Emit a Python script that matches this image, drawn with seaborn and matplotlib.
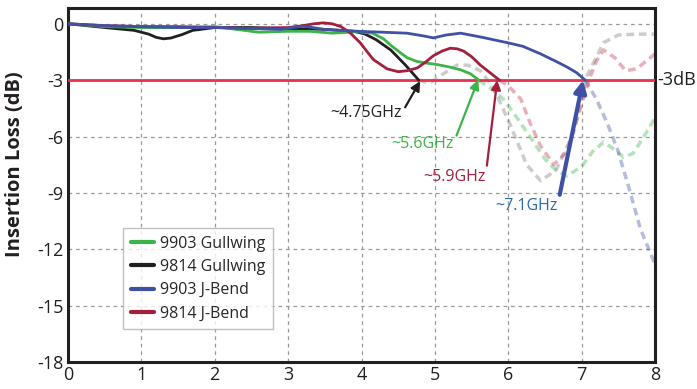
import numpy as np
import pandas as pd
import matplotlib
matplotlib.use("Agg")
import matplotlib.pyplot as plt
import seaborn as sns

# ---- data ----
series_names = ["9903 Gullwing", "9814 Gullwing", "9903 J-Bend", "9814 J-Bend"]
series_colors = ["#3cb44a", "#231f20", "#3f51a5", "#a3203c"]
faded_colors = ["#3cb44a", "#7a7a7a", "#3f51a5", "#c0304a"]

g_x = [0, 0.5, 1.0, 1.5, 2.0, 2.3, 2.6, 3.0, 3.3, 3.6, 3.95, 4.15, 4.3, 4.4, 4.5, 4.62, 4.75, 4.9, 5.03, 5.2, 5.35, 5.48, 5.6]
g_y = [0, -0.15, -0.2, -0.2, -0.15, -0.3, -0.45, -0.4, -0.4, -0.5, -0.42, -0.5, -0.8, -1.15, -1.45, -1.8, -2.0, -2.1, -2.17, -2.3, -2.45, -2.65, -3.0]
g_dx = [5.6, 5.75, 5.93, 6.1, 6.26, 6.5, 6.65, 6.8, 7.0, 7.15, 7.3, 7.45, 7.57, 7.7, 7.85, 8.0]
g_dy = [-3.0, -3.4, -4.0, -4.9, -5.8, -7.2, -7.8, -8.1, -7.6, -6.8, -6.3, -6.7, -7.1, -6.9, -6.0, -5.0]

k_x = [0, 0.5, 0.9, 1.1, 1.2, 1.3, 1.4, 1.55, 1.7, 2.0, 2.5, 3.0, 3.5, 3.9, 4.05, 4.2, 4.4, 4.6, 4.78]
k_y = [0, -0.2, -0.35, -0.55, -0.72, -0.8, -0.76, -0.58, -0.35, -0.2, -0.2, -0.25, -0.3, -0.4, -0.55, -0.85, -1.4, -2.2, -3.0]
k_dx = [4.78, 4.88, 4.95, 5.1, 5.3, 5.45, 5.62, 5.8, 6.03, 6.25, 6.44, 6.65, 6.89, 7.07, 7.3, 7.5, 7.75, 8.0]
k_dy = [-3.0, -3.1, -3.1, -2.7, -2.2, -2.2, -2.5, -3.4, -5.4, -7.5, -8.35, -7.8, -5.8, -2.8, -1.0, -0.6, -0.55, -0.55]

b_x = [0, 0.5, 1.0, 1.5, 2.0, 2.5, 2.9, 3.2, 3.5, 3.95, 4.3, 4.62, 4.85, 4.98, 5.15, 5.35, 5.62, 5.98, 6.2, 6.44, 6.65, 6.8, 6.93, 7.05]
b_y = [0, -0.1, -0.15, -0.2, -0.2, -0.25, -0.3, -0.12, -0.3, -0.4, -0.45, -0.5, -0.65, -0.75, -0.6, -0.5, -0.7, -1.0, -1.2, -1.6, -2.0, -2.3, -2.6, -3.0]
b_dx = [7.05, 7.2, 7.35, 7.49, 7.65, 7.8, 8.0]
b_dy = [-3.0, -4.0, -5.3, -6.7, -8.8, -10.9, -12.8]

r_x = [0, 0.5, 1.0, 1.5, 2.0, 2.5, 3.0, 3.2, 3.35, 3.48, 3.6, 3.72, 3.85, 3.98, 4.16, 4.35, 4.5, 4.62, 4.76, 4.87, 4.98, 5.1, 5.21, 5.3, 5.39, 5.5, 5.62, 5.75, 5.88]
r_y = [0, -0.1, -0.15, -0.15, -0.2, -0.25, -0.2, -0.1, 0.0, 0.05, 0.0, -0.15, -0.5, -1.0, -1.9, -2.4, -2.55, -2.5, -2.35, -2.05, -1.7, -1.45, -1.3, -1.33, -1.45, -1.75, -2.2, -2.6, -3.0]
r_dx = [5.88, 6.0, 6.17, 6.3, 6.44, 6.62, 6.8, 7.0, 7.1, 7.2, 7.3, 7.45, 7.6, 7.75, 8.0]
r_dy = [-3.0, -3.3, -4.0, -5.3, -6.5, -7.5, -6.8, -4.3, -3.0, -2.0, -1.4, -1.8, -2.5, -2.4, -1.6]

solid_x = [g_x, k_x, b_x, r_x]
solid_y = [g_y, k_y, b_y, r_y]
dash_x = [g_dx, k_dx, b_dx, r_dx]
dash_y = [g_dy, k_dy, b_dy, r_dy]

threshold = -3
x_ticks = list(range(0, 9))
y_ticks = [0, -3, -6, -9, -12, -15, -18]

ann_labels = ["~5.6GHz", "~4.75GHz", "~7.1GHz", "~5.9GHz"]
ann_head = [(5.59, -2.98), (4.8, -3.05), (7.02, -3.0), (5.85, -3.0)]
ann_tail = [(5.25, -6.4), (4.55, -4.75), (6.67, -9.7), (5.69, -8.15)]
ann_text_colors = ["#3cb44a", "#231f20", "#2b6aa8", "#a3203c"]
ann_lw = [1.6, 1.6, 3.0, 1.6]

# ---- plotting ----
sns.set_style("white")
plt.rcParams["font.family"] = ["Open Sans", "DejaVu Sans"]

fig = plt.figure(figsize=(6.97, 3.89), dpi=100)
ax = fig.add_axes([68 / 697, 1 - 362 / 389, 587 / 697, 354 / 389])

# faded dashed continuations first
for i in range(4):
    df = pd.DataFrame({"x": dash_x[i], "y": dash_y[i]})
    sns.lineplot(data=df, x="x", y="y", ax=ax, color=faded_colors[i], alpha=0.38,
                 linewidth=2.5, linestyle=(0, (2.2, 1.4)), sort=False, estimator=None,
                 legend=False)

# -3 dB line
ax.axhline(threshold, color="#e8304f", linewidth=2, zorder=3)

for i in [1, 0, 3, 2]:
    df = pd.DataFrame({"x": solid_x[i], "y": solid_y[i]})
    sns.lineplot(data=df, x="x", y="y", ax=ax, color=series_colors[i], linewidth=2.0,
                 sort=False, estimator=None, legend=False, zorder=4)
handles = [plt.Line2D([], [], color=series_colors[i], linewidth=3) for i in range(4)]

for i in range(4):
    ax.annotate(ann_labels[i], xy=ann_head[i], xytext=ann_tail[i],
                ha="right", va="center", fontsize=11.5, color=ann_text_colors[i],
                arrowprops=dict(arrowstyle="-|>", color=series_colors[i],
                                lw=ann_lw[i], mutation_scale=14 if i != 2 else 18,
                                shrinkA=0, shrinkB=0, relpos=(1.0, 0.5)),
                zorder=6)

ax.text(1.004, threshold, "-3dB", transform=ax.get_yaxis_transform(),
        ha="left", va="center", fontsize=13, color="#231f20")

ax.set_xlim(0, 8)
ax.set_ylim(-18, 0.84)
ax.set_xticks(x_ticks)
ax.set_yticks(y_ticks)
ax.set_xticklabels([str(v) for v in x_ticks])
ax.set_yticklabels([str(v) for v in y_ticks])
ax.tick_params(length=0, labelsize=13, colors="#231f20", pad=3)
ax.set_xlabel("")
ax.set_ylabel("Insertion Loss (dB)", fontsize=14.5, fontweight="bold", color="#231f20")
ax.yaxis.set_label_coords(-0.074, 0.559)

ax.grid(True, color="#9a9a9a", linestyle=(0, (3, 3)), linewidth=0.9)
ax.set_axisbelow(True)
for sp in ax.spines.values():
    sp.set_visible(True)
    sp.set_color("#231f20")
    sp.set_linewidth(2.2)

leg = ax.legend(handles, series_names, loc="upper left", bbox_to_anchor=(0.094, 0.379),
                borderaxespad=0, fontsize=11.5, frameon=True, fancybox=False,
                handlelength=1.4, handletextpad=0.4, labelspacing=0.45, borderpad=0.5)
leg.get_frame().set_edgecolor("#b0b0b0")
leg.get_frame().set_linewidth(1.0)
leg.set_zorder(7)

fig.savefig("out.png", dpi=100)
